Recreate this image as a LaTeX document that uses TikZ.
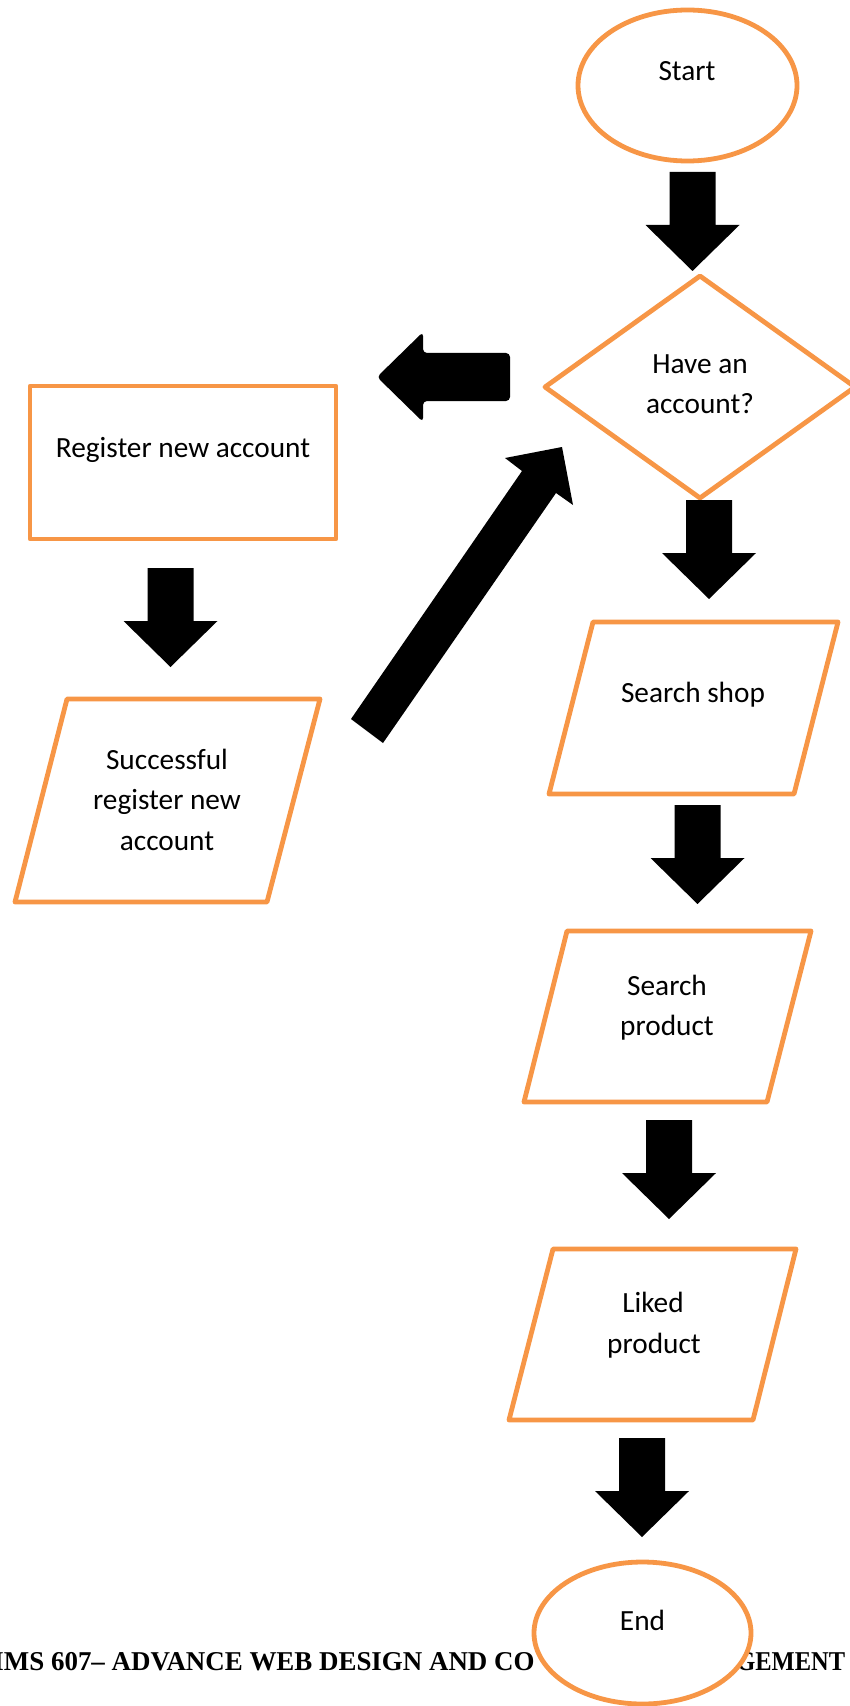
\documentclass[tikz,border=0pt]{standalone}
\usepackage{fontspec}
\setmainfont{Carlito}
\newfontfamily\footfont{Liberation Serif}
\definecolor{flow}{HTML}{F79646}
\begin{document}
\begin{tikzpicture}[x=0.5pt,y=-0.5pt,
  shapeline/.style={draw=flow,line width=2.4pt,line join=round,fill=white},
  lbl/.style={anchor=base,inner sep=0pt,font=\fontsize{14.65pt}{17pt}\selectfont},
  foot/.style={inner sep=0pt,transform shape,font=\footfont\bfseries\fontsize{13.6pt}{15pt}\selectfont},
  downarr/.pic={\fill[black] (-23,0) -- (23,0) -- (23,53) -- (47,53) -- (0,99) -- (-47,53) -- (-23,53) -- cycle;}]
\useasboundingbox (0,0) rectangle (850,1706);
\clip (0,0) rectangle (850,1706);

% footer text
\begin{scope}[shift={(535,1670)},xscale=0.99]
  \node[foot,anchor=base east] (footL) at (0,0) {IMS 607– ADVANCE WEB DESIGN AND CO};
\end{scope}
\begin{scope}[shift={(736,1670)},xscale=0.9]
  \node[foot,anchor=base west] (footR) at (0,0) {GEMENT};
\end{scope}

% Start
\draw[shapeline] (687.5,85.5) ellipse [x radius=109.5, y radius=75.5];
\node[lbl] (start) at (687,81) {Start};

% Diamond
\draw[shapeline] (700,276) -- (855,387) -- (700,498) -- (545,387) -- cycle;
\node[lbl] (have1) at (700,373) {Have an};
\node[lbl] (have2) at (700,413) {account?};

% Register
\draw[shapeline] (30,386) rectangle (336,539);
\node[lbl] (reg) at (183,457) {Register new account};

% Successful
\draw[shapeline] (67,699) -- (320,699) -- (267,902) -- (15,902) -- cycle;
\node[lbl] (succ1) at (167,769) {Successful};
\node[lbl] (succ2) at (167,809) {register new};
\node[lbl] (succ3) at (167,850) {account};

% Search shop
\draw[shapeline] (593,622) -- (838,622) -- (794,794) -- (549,794) -- cycle;
\node[lbl] (shop) at (693,702) {Search shop};

% Search product
\draw[shapeline] (567,931) -- (811,931) -- (767,1102) -- (524,1102) -- cycle;
\node[lbl] (prod1) at (667,995) {Search};
\node[lbl] (prod2) at (667,1035) {product};

% Liked product
\draw[shapeline] (553,1249) -- (796,1249) -- (753,1420) -- (509,1420) -- cycle;
\node[lbl] (liked1) at (653,1312) {Liked};
\node[lbl] (liked2) at (654,1353) {product};

% End
\draw[shapeline] (642.5,1633) ellipse [x radius=108.5, y radius=71];
\node[lbl] (end) at (642.5,1630) {End};

% block arrows
\pic at (692.5,172) {downarr};
\pic at (170.5,568) {downarr};
\pic at (709,500) {downarr};
\pic at (697.5,805) {downarr};
\pic at (669,1120) {downarr};
\pic at (642,1438) {downarr};

% left arrow
\fill[black,rounded corners=2pt] (510,353) -- (510,401) -- (423,401) -- (423,422) -- (377,377) -- (423,332) -- (423,353) -- cycle;

% diagonal arrow
\fill[black] (351,719) -- (522,471) -- (505,458) -- (562,447) -- (573,505) -- (556,493) -- (383,743) -- cycle;
\end{tikzpicture}
\end{document}
